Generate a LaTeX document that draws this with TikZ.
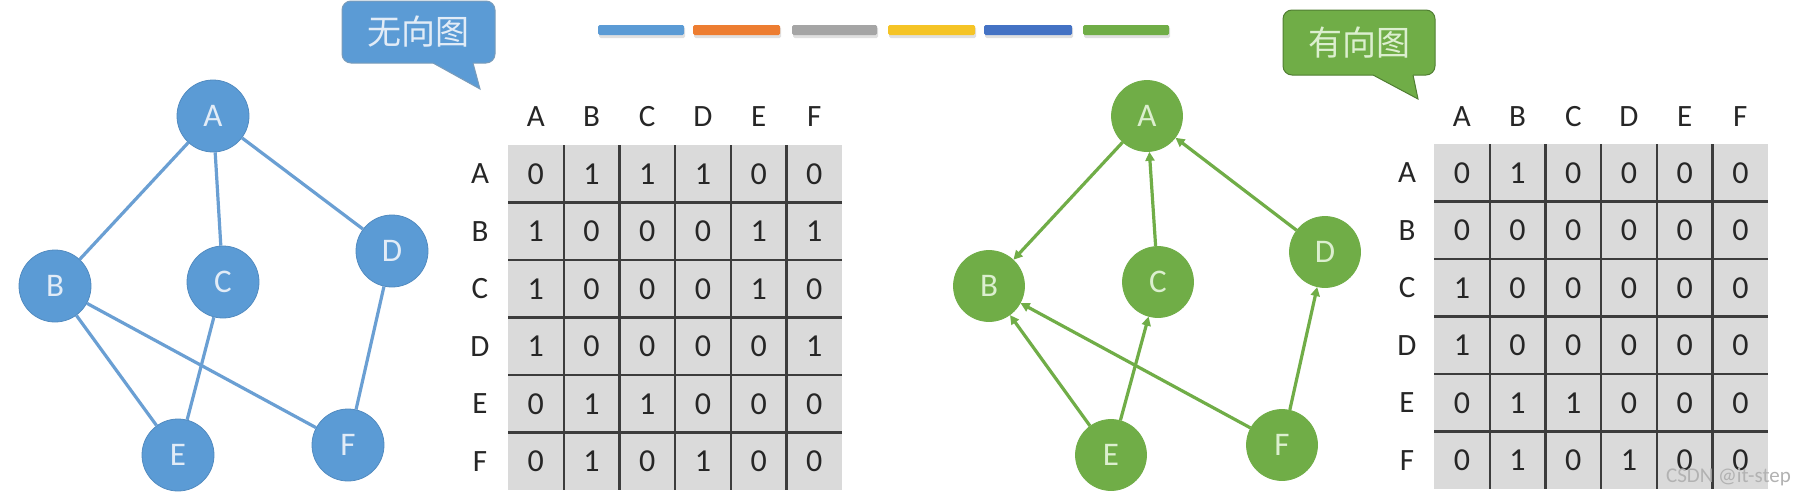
\documentclass[tikz,border=0pt]{standalone}
\usepackage{fontspec}
\setmainfont{Carlito}
\newfontfamily\cjk{Noto Sans CJK SC}
\usetikzlibrary{arrows.meta}
\definecolor{nblue}{HTML}{5B9BD5}
\definecolor{nblueline}{HTML}{6A9FD3}
\definecolor{nblueborder}{HTML}{41719C}
\definecolor{ngreen}{HTML}{70AD47}
\definecolor{ngreenborder}{HTML}{507E32}
\definecolor{borange}{HTML}{ED7D31}
\definecolor{bgray}{HTML}{A5A5A5}
\definecolor{byellow}{HTML}{F5C426}
\definecolor{bdarkblue}{HTML}{4472C4}
\definecolor{cellgray}{HTML}{DADADA}
\definecolor{gridc}{HTML}{3C3C3C}
\definecolor{bluetext}{HTML}{E2ECF7}
\definecolor{greentext}{HTML}{DCEFCF}
\begin{document}
\begin{tikzpicture}[x=1pt,y=-1pt,
  bnode/.style={circle,minimum size=72pt,inner sep=0pt,fill=nblue,draw=nblue!90!black,line width=0.8pt,text=bluetext,font=\fontsize{33}{33}\selectfont},
  gnode/.style={circle,minimum size=71pt,inner sep=0pt,fill=ngreen,draw=ngreen,line width=0.8pt,text=greentext,font=\fontsize{33}{33}\selectfont},
  bedge/.style={draw=nblueline,line width=3.2pt},
  gedge/.style={draw=ngreen,line width=3.2pt,-{Triangle[length=9pt,width=9pt]}},
  hdr/.style={inner sep=0pt,font=\fontsize{31}{31}\selectfont,text=black!85},
  val/.style={inner sep=0pt,font=\fontsize{32}{32}\selectfont,text=black!85},
  gridline/.style={draw=gridc,line width=2.2pt},
  bubbleb/.style={rectangle,rounded corners=9pt,fill=nblue,draw=nblueborder!70,line width=1pt,minimum width=153pt,minimum height=62pt,inner sep=0pt,text=bluetext,font=\cjk\fontsize{34}{34}\selectfont},
  bubbleg/.style={rectangle,rounded corners=9pt,fill=ngreen,draw=ngreenborder,line width=1pt,minimum width=152pt,minimum height=65pt,inner sep=0pt,text=greentext,font=\cjk\fontsize{34}{34}\selectfont},
  bar/.style={rounded corners=1.5pt},
]
\useasboundingbox (0,0) rectangle (1805,498);
\fill[white] (0,0) rectangle (1805,498);

% ---------- colour bars ----------
\foreach \xa/\xb/\col [count=\k] in {598/684/nblue,693/780/borange,792/877/bgray,888/975/byellow,984/1072/bdarkblue,1083/1169/ngreen}{
  \fill[black,opacity=0.12,bar] (\xa+1,27) rectangle (\xb+1,38);
  \fill[\col,bar] (\xa,25) rectangle (\xb,35);
}

% ---------- undirected graph ----------
\node[bnode] (uA) at (213,116) {A};
\node[bnode] (uB) at (55,286) {B};
\node[bnode] (uC) at (223,282) {C};
\node[bnode] (uD) at (392,251) {D};
\node[bnode] (uE) at (178,455) {E};
\node[bnode] (uF) at (348,445) {F};
\draw[bedge] (uA) -- (uB);
\draw[bedge] (uA) -- (uC);
\draw[bedge] (uA) -- (uD);
\draw[bedge] (uB) -- (uE);
\draw[bedge] (uB) -- (uF);
\draw[bedge] (uC) -- (uE);
\draw[bedge] (uD) -- (uF);

% bubble 1
\node[bubbleb] (bub1) at (418.5,32) {无向图};
\fill[nblue] (433,58) -- (433,63) -- (480,89) -- (473,63) -- (473,58) -- cycle;
\draw[nblueborder!70,line width=1pt] (433,63) -- (480,89) -- (473,63);

% ---------- directed graph ----------
\node[gnode] (dA) at (1147,116) {A};
\node[gnode] (dB) at (989,286) {B};
\node[gnode] (dC) at (1158,282) {C};
\node[gnode] (dD) at (1325,252) {D};
\node[gnode] (dE) at (1111,455) {E};
\node[gnode] (dF) at (1282,445) {F};
\draw[gedge] (dA) -- (dB);
\draw[gedge] (dC) -- (dA);
\draw[gedge] (dD) -- (dA);
\draw[gedge] (dE) -- (dB);
\draw[gedge] (dE) -- (dC);
\draw[gedge] (dF) -- (dB);
\draw[gedge] (dF) -- (dD);

% bubble 2
\node[bubbleg] (bub2) at (1359,42.5) {有向图};
\fill[ngreen] (1373,70) -- (1373,75) -- (1418,99) -- (1413,75) -- (1413,70) -- cycle;
\draw[ngreenborder,line width=1pt] (1373,75) -- (1418,99) -- (1413,75);

% ---------- matrices ----------
\def\cw{55.7}
\def\ch{57.5}
% matrix 1
\fill[cellgray] (508,145) rectangle (842,490);
\foreach \i in {1,...,5}{
  \draw[gridline] ({508+\i*\cw},145) -- ({508+\i*\cw},490);
  \draw[gridline] (508,{145+\i*\ch}) -- (842,{145+\i*\ch});
}
\foreach \l [count=\c] in {A,B,C,D,E,F}{
  \node[hdr] (m1col\l) at ({508+(\c-0.5)*\cw},117) {\l};
  \node[hdr] (m1row\l) at (480,{145+(\c-0.5)*\ch}) {\l};
}
\foreach \row [count=\r] in {{0,1,1,1,0,0},{1,0,0,0,1,1},{1,0,0,0,1,0},{1,0,0,0,0,1},{0,1,1,0,0,0},{0,1,0,1,0,0}}{
  \foreach \v [count=\c] in \row{
    \node[val] (m1-\r-\c) at ({508+(\c-0.5)*\cw},{145+(\r-0.5)*\ch}) {\v};
  }
}
% matrix 2
\fill[cellgray] (1434,144) rectangle (1768,489);
\foreach \i in {1,...,5}{
  \draw[gridline] ({1434+\i*\cw},144) -- ({1434+\i*\cw},489);
  \draw[gridline] (1434,{144+\i*\ch}) -- (1768,{144+\i*\ch});
}
\foreach \l [count=\c] in {A,B,C,D,E,F}{
  \node[hdr] (m2col\l) at ({1434+(\c-0.5)*\cw},117) {\l};
  \node[hdr] (m2row\l) at (1407,{144+(\c-0.5)*\ch}) {\l};
}
\foreach \row [count=\r] in {{0,1,0,0,0,0},{0,0,0,0,0,0},{1,0,0,0,0,0},{1,0,0,0,0,0},{0,1,1,0,0,0},{0,1,0,1,0,0}}{
  \foreach \v [count=\c] in \row{
    \node[val] (m2-\r-\c) at ({1434+(\c-0.5)*\cw},{144+(\r-0.5)*\ch}) {\v};
  }
}

% watermark
\node[anchor=east,inner sep=0pt,text=black!30,font=\fontsize{21}{21}\selectfont] (wm) at (1791,477) {CSDN @it-step};
\end{tikzpicture}
\end{document}
